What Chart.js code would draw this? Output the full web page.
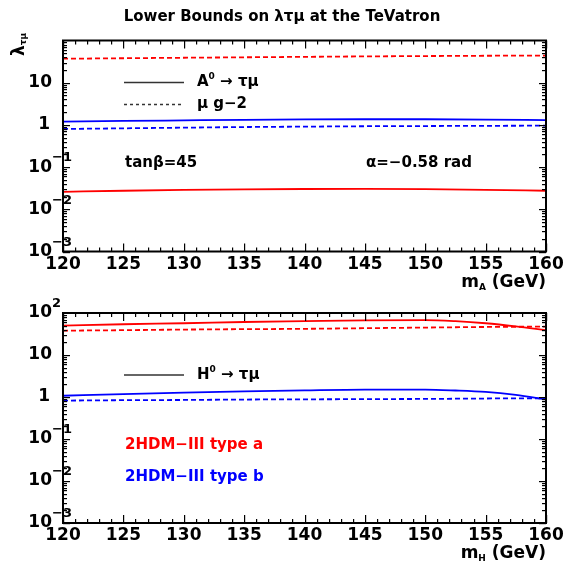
<!DOCTYPE html>
<html>
<head>
<meta charset="utf-8">
<script src="https://cdn.jsdelivr.net/npm/chart.js@4.4.0/dist/chart.umd.min.js"></script>
<style>
  html, body { margin: 0; padding: 0; background: #fff; }
  #wrap { position: relative; width: 564px; height: 564px; }
  canvas { position: absolute; left: 0; }
  #topChart { top: 0; }
  #botChart { top: 282px; }
</style>
</head>
<body>
<div id="wrap">
  <canvas id="topChart" width="564" height="300"></canvas>
  <canvas id="botChart" width="564" height="282"></canvas>
</div>
<script>
// masses (GeV)
const massA = [120, 125, 130, 135, 140, 145, 150, 155, 160];
const massH = [120, 125, 130, 135, 140, 145, 150, 152.5, 155, 157.5, 160];

// top panel: A0 -> tau mu (solid) and muon g-2 (dashed)
const a0TypeA  = [0.026, 0.0275, 0.0288, 0.0297, 0.0303, 0.0305, 0.0300, 0.0290, 0.0275];
const a0TypeB  = [1.19, 1.24, 1.28, 1.32, 1.35, 1.36, 1.36, 1.34, 1.30];
const g2TypeA_A = [37, 38, 39, 40, 41, 42, 42.8, 43.5, 44];
const g2TypeB_A = [0.80, 0.83, 0.86, 0.89, 0.91, 0.93, 0.94, 0.95, 0.96];

// bottom panel: H0 -> tau mu (solid) and muon g-2 (dashed)
const h0TypeA  = [50, 54, 57, 61, 64, 67, 68, 64, 57, 48, 39];
const h0TypeB  = [1.07, 1.17, 1.27, 1.36, 1.44, 1.50, 1.50, 1.43, 1.32, 1.12, 0.88];
const g2TypeA_H = [38, 39, 40.3, 41.2, 42, 43.5, 45, 45.8, 46.5, 47, 47.5];
const g2TypeB_H = [0.82, 0.84, 0.85, 0.87, 0.88, 0.89, 0.90, 0.91, 0.92, 0.93, 0.93];

const xTickLabels = [120, 125, 130, 135, 140, 145, 150, 155, 160];
const yDecades = [2, 1, 0, -1, -2, -3];

const RED = '#ff0000';
const BLUE = '#0000ff';
const FONT = 'DejaVu Sans';

function pts(xs, ys) {
  return xs.map((x, i) => ({ x: x, y: ys[i] }));
}

function line(xs, ys, color, dashed) {
  return {
    data: pts(xs, ys),
    borderColor: color,
    borderWidth: 1.8,
    borderDash: dashed ? [5, 3] : [],
    pointRadius: 0,
    tension: 0.4,
    cubicInterpolationMode: 'monotone',
    fill: false
  };
}

function superText(ctx, parts, x, y) {
  // parts: [text, size, dy]
  let cx = x;
  parts.forEach(p => {
    ctx.font = 'bold ' + p[1] + 'px ' + FONT;
    ctx.fillText(p[0], cx, y + (p[2] || 0));
    cx += ctx.measureText(p[0]).width;
  });
}

// ROOT-like frame, inside ticks and labels
const rootAxes = {
  id: 'rootAxes',
  afterDraw(chart, args, opts) {
    const ctx = chart.ctx;
    const a = chart.chartArea;
    const xs = chart.scales.x;
    const ys = chart.scales.y;
    ctx.save();
    ctx.setLineDash([]);
    ctx.globalAlpha = 1;
    ctx.fillStyle = '#000';
    ctx.strokeStyle = '#000';

    // ticks, drawn as thin rects
    for (let v = 120; v <= 160; v++) {
      const px = Math.round(xs.getPixelForValue(v));
      const len = v % 5 === 0 ? 8 : 4;
      ctx.fillRect(px, a.bottom - len, 1.2, len);
      ctx.fillRect(px, a.top, 1.2, len);
    }
    for (let e = -3; e <= 1; e++) {
      for (let m = 1; m <= 9; m++) {
        const py = Math.round(ys.getPixelForValue(m * Math.pow(10, e)));
        const len = m === 1 ? 7 : 4;
        ctx.fillRect(a.left, py, len, 1.2);
        ctx.fillRect(a.right - len, py, len, 1.2);
      }
    }

    // frame
    ctx.lineWidth = 2;
    ctx.strokeRect(a.left, a.top, a.right - a.left, a.bottom - a.top);

    // x tick labels
    ctx.textAlign = 'center';
    ctx.textBaseline = 'middle';
    ctx.font = 'bold 17px ' + FONT;
    xTickLabels.forEach(v => {
      ctx.fillText(String(v), xs.getPixelForValue(v), a.bottom + 13);
    });

    // y tick labels
    yDecades.forEach(e => {
      if (e === 2 && !opts.showTop) return;
      const py = ys.getPixelForValue(Math.pow(10, e));
      ctx.textBaseline = 'middle';
      ctx.textAlign = 'right';
      ctx.font = 'bold 17px ' + FONT;
      if (e === 0) {
        ctx.fillText('1', 50, py);
      } else if (e === 1) {
        ctx.fillText('10', 52, py);
      } else {
        ctx.fillText('10', 52, py);
        ctx.textAlign = 'left';
        ctx.font = 'bold 13px ' + FONT;
        ctx.fillText(e < 0 ? '\u2212' + (-e) : String(e), 52, py - 9);
      }
    });

    // x axis title, right aligned at axis end
    ctx.textAlign = 'left';
    ctx.textBaseline = 'alphabetic';
    ctx.font = 'bold 17px ' + FONT;
    const w1 = ctx.measureText('m').width;
    ctx.font = 'bold 9px ' + FONT;
    const w2 = ctx.measureText(opts.sub).width;
    ctx.font = 'bold 17px ' + FONT;
    const w3 = ctx.measureText(' (GeV)').width;
    const x0 = a.right - (w1 + w2 + w3);
    const yb = a.bottom + 35;
    superText(ctx, [['m', 17, 0], [opts.sub, 9, 3], [' (GeV)', 17, 0]], x0, yb);

    // text blocks
    (opts.texts || []).forEach(t => {
      ctx.fillStyle = t.color || '#000';
      ctx.textAlign = 'left';
      ctx.textBaseline = 'middle';
      superText(ctx, t.parts, t.x, t.y);
    });

    // legend lines
    (opts.keys || []).forEach(k => {
      ctx.strokeStyle = '#333';
      ctx.lineWidth = 1.5;
      ctx.setLineDash(k.dashed ? [3, 3] : []);
      ctx.beginPath();
      ctx.moveTo(124, k.y); ctx.lineTo(184, k.y);
      ctx.stroke();
    });
    ctx.setLineDash([]);

    // title and y axis label
    if (opts.title) {
      ctx.fillStyle = '#000';
      ctx.textAlign = 'center';
      ctx.textBaseline = 'middle';
      ctx.font = 'bold 15px ' + FONT;
      ctx.fillText('Lower Bounds on \u03bb\u03c4\u03bc at the TeVatron', 282, 17);

      ctx.translate(20, 56);
      ctx.rotate(-Math.PI / 2);
      ctx.textAlign = 'left';
      ctx.textBaseline = 'middle';
      superText(ctx, [['\u03bb', 17, 0], ['\u03c4\u03bc', 9, 4]], 0, 0);
    }
    ctx.restore();
  }
};

function makeChart(id, datasets, topPad, xHeight, pluginOpts) {
  return new Chart(document.getElementById(id), {
    type: 'line',
    data: { datasets: datasets },
    plugins: [rootAxes],
    options: {
      responsive: false,
      animation: false,
      layout: { padding: { top: topPad, right: 18, left: 0, bottom: 0 } },
      scales: {
        x: {
          type: 'linear', min: 120, max: 160,
          ticks: { display: false },
          grid: { display: false },
          border: { display: false },
          afterFit: s => { s.height = xHeight; }
        },
        y: {
          type: 'logarithmic', min: 0.001, max: 100,
          ticks: { display: false },
          grid: { display: false },
          border: { display: false },
          afterFit: s => { s.width = 63; }
        }
      },
      plugins: {
        legend: { display: false },
        tooltip: { enabled: false },
        title: { display: false },
        rootAxes: pluginOpts
      }
    }
  });
}

makeChart('topChart', [
  line(massA, a0TypeA, RED, false),
  line(massA, g2TypeA_A, RED, true),
  line(massA, a0TypeB, BLUE, false),
  line(massA, g2TypeB_A, BLUE, true)
], 40.5, 48.5, {
  title: true,
  showTop: false,
  sub: 'A',
  keys: [{ y: 82.5, dashed: false }, { y: 104.5, dashed: true }],
  texts: [
    { x: 197, y: 82, parts: [['A', 15, 0], ['0', 9, -5], [' \u2192 \u03c4\u03bc', 15, 0]] },
    { x: 197, y: 104, parts: [['\u03bc g\u22122', 15, 0]] },
    { x: 125, y: 163, parts: [['tan\u03b2=45', 15, 0]] },
    { x: 366, y: 163, parts: [['\u03b1=\u22120.58 rad', 15, 0]] }
  ]
});

makeChart('botChart', [
  line(massH, h0TypeA, RED, false),
  line(massH, g2TypeA_H, RED, true),
  line(massH, h0TypeB, BLUE, false),
  line(massH, g2TypeB_H, BLUE, true)
], 31, 41, {
  title: false,
  showTop: true,
  sub: 'H',
  keys: [{ y: 93, dashed: false }],
  texts: [
    { x: 197, y: 93, parts: [['H', 15, 0], ['0', 9, -5], [' \u2192 \u03c4\u03bc', 15, 0]] },
    { x: 125, y: 163, color: RED, parts: [['2HDM\u2212III type a', 15, 0]] },
    { x: 125, y: 195, color: BLUE, parts: [['2HDM\u2212III type b', 15, 0]] }
  ]
});
</script>
</body>
</html>
